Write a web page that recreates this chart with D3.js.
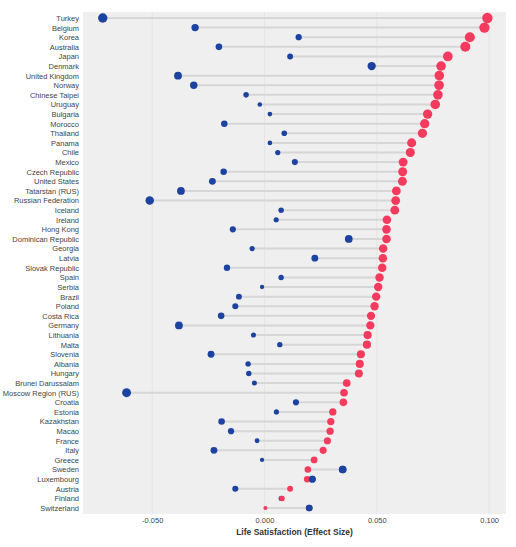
<!DOCTYPE html>
<html>
<head>
<meta charset="utf-8">
<script src="https://cdn.jsdelivr.net/npm/d3@7"></script>
<style>
  body { margin: 0; background: #fff; }
  text { font-family: "Liberation Sans", Arial, sans-serif; }
</style>
</head>
<body>
<div id="chart"></div>
<script>
// Countries, top to bottom
var countries = ["Turkey","Belgium","Korea","Australia","Japan","Denmark","United Kingdom","Norway",
  "Chinese Taipei","Uruguay","Bulgaria","Morocco","Thailand","Panama","Chile","Mexico","Czech Republic",
  "United States","Tatarstan (RUS)","Russian Federation","Iceland","Ireland","Hong Kong","Dominican Republic",
  "Georgia","Latvia","Slovak Republic","Spain","Serbia","Brazil","Poland","Costa Rica","Germany","Lithuania",
  "Malta","Slovenia","Albania","Hungary","Brunei Darussalam","Moscow Region (RUS)","Croatia","Estonia",
  "Kazakhstan","Macao","France","Italy","Greece","Sweden","Luxembourg","Austria","Finland","Switzerland"];

// red series
var redValues = [0.0992,0.0979,0.0914,0.0894,0.0816,0.0786,0.0778,0.0777,0.0772,0.0760,0.0726,0.0713,
  0.0703,0.0655,0.0649,0.0617,0.0615,0.0614,0.0587,0.0584,0.0580,0.0545,0.0543,0.0543,0.0528,0.0527,
  0.0524,0.0512,0.0506,0.0497,0.0490,0.0474,0.0471,0.0459,0.0456,0.0429,0.0424,0.0420,0.0366,0.0354,
  0.0351,0.0304,0.0295,0.0292,0.0280,0.0261,0.0221,0.0193,0.0190,0.0114,0.0078,0.0004];

// blue series
var blueValues = [-0.0720,-0.0309,0.0152,-0.0203,0.0114,0.0477,-0.0385,-0.0315,-0.0082,-0.0021,0.0024,
  -0.0179,0.0088,0.0024,0.0059,0.0135,-0.0182,-0.0232,-0.0372,-0.0511,0.0074,0.0052,-0.0141,0.0375,
  -0.0055,0.0224,-0.0167,0.0074,-0.0011,-0.0114,-0.0130,-0.0193,-0.0381,-0.0049,0.0068,-0.0238,-0.0073,
  -0.0070,-0.0045,-0.0614,0.0140,0.0053,-0.0191,-0.0149,-0.0033,-0.0225,-0.0011,0.0348,0.0213,-0.0130,
  0.0075,0.0199];

var xTicks = [-0.05, 0, 0.05, 0.1];

var svgWidth = 516, svgHeight = 547;
var margin = {top: 12, right: 10, bottom: 33, left: 83};
var width = svgWidth - margin.left - margin.right;
var height = svgHeight - margin.top - margin.bottom;

var svg = d3.select("#chart").append("svg")
  .attr("width", svgWidth).attr("height", svgHeight);
var g = svg.append("g").attr("transform", `translate(${margin.left},${margin.top})`);

var x = d3.scaleLinear().domain([-0.0808, 0.1075]).range([0, width]);
var y = d3.scalePoint().domain(countries).range([6, height - 6]);
var r = d3.scaleSqrt().domain([0, 0.1]).range([1.8, 5.2]);

g.append("rect").attr("width", width).attr("height", height).attr("fill", "#efefef");

// grid
g.selectAll(".grid").data(xTicks).enter().append("line")
  .attr("x1", d => x(d)).attr("x2", d => x(d))
  .attr("y1", 0).attr("y2", height)
  .attr("stroke", "#e2e2e2").attr("stroke-width", 0.8);

var rows = countries.map((c, i) => ({c: c, red: redValues[i], blue: blueValues[i]}));

g.selectAll(".seg").data(rows).enter().append("line")
  .attr("x1", d => x(d.blue)).attr("x2", d => x(d.red))
  .attr("y1", d => y(d.c)).attr("y2", d => y(d.c))
  .attr("stroke", "#d6d6d6").attr("stroke-width", 2);

g.selectAll(".blue").data(rows).enter().append("circle")
  .attr("cx", d => x(d.blue)).attr("cy", d => y(d.c))
  .attr("r", d => r(Math.abs(d.blue))).attr("fill", "#1c43a0");

g.selectAll(".red").data(rows).enter().append("circle")
  .attr("cx", d => x(d.red)).attr("cy", d => y(d.c))
  .attr("r", d => r(Math.abs(d.red))).attr("fill", "#f43b5e");

// Luxembourg: blue sits on top of red in the reference
g.selectAll(".blueTop").data(rows.filter(d => d.blue > d.red + 0.001)).enter().append("circle")
  .attr("cx", d => x(d.blue)).attr("cy", d => y(d.c))
  .attr("r", d => r(Math.abs(d.blue))).attr("fill", "#1c43a0");

// axes
var yAxis = g.append("g").call(d3.axisLeft(y).tickSize(0).tickPadding(4));
yAxis.select(".domain").remove();
yAxis.selectAll("text").attr("font-size", 7.5).attr("fill", "#444");

var fmt = d3.format(".3f");
var xAxis = g.append("g").attr("transform", `translate(0,${height})`)
  .call(d3.axisBottom(x).tickValues(xTicks).tickFormat(d => fmt(d).replace("\u2212", "-")).tickSize(0).tickPadding(4));
xAxis.select(".domain").remove();
xAxis.selectAll("text").attr("font-size", 7.5).attr("fill", "#444");

svg.append("text")
  .attr("x", margin.left + width / 2).attr("y", 535)
  .attr("text-anchor", "middle").attr("font-size", 8.5).attr("font-weight", "bold").attr("fill", "#333")
  .text("Life Satisfaction (Effect Size)");
</script>
</body>
</html>
